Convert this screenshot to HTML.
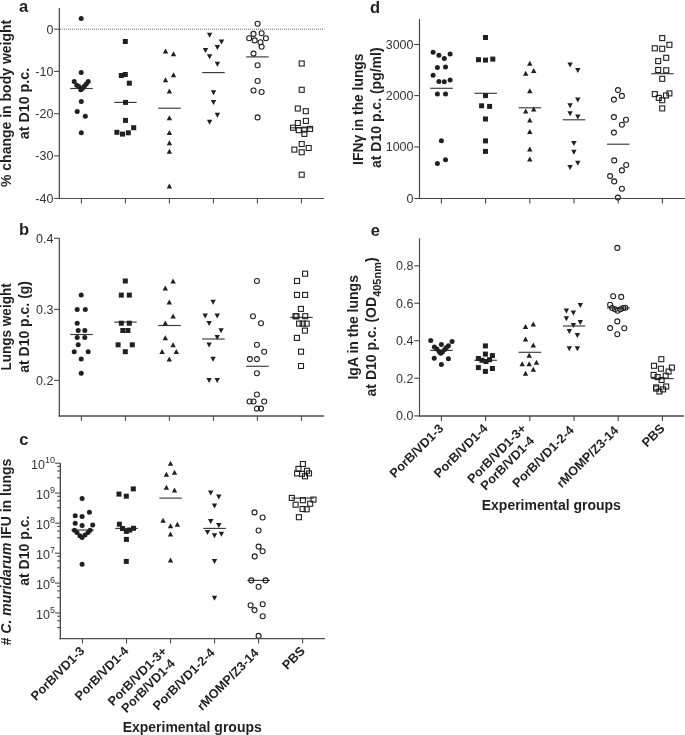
<!DOCTYPE html>
<html><head><meta charset="utf-8"><title>Figure</title><style>html,body{margin:0;padding:0;background:#fff;}body{width:685px;height:735px;overflow:hidden;}svg{display:block;font-family:"Liberation Sans",sans-serif;filter:grayscale(1);}</style></head><body>
<svg width="685" height="735" viewBox="0 0 685 735" font-family="Liberation Sans, sans-serif">
<rect width="685" height="735" fill="#fff"/>
<line x1="60" y1="29.2" x2="324.3" y2="29.2" stroke="#666" stroke-width="1" stroke-dasharray="1 1"/>
<line x1="70.20" y1="88.50" x2="92.70" y2="88.50" stroke="#3a3a3a" stroke-width="1.15"/>
<line x1="114.20" y1="102.40" x2="136.70" y2="102.40" stroke="#3a3a3a" stroke-width="1.15"/>
<line x1="158.20" y1="108.20" x2="180.70" y2="108.20" stroke="#3a3a3a" stroke-width="1.15"/>
<line x1="202.20" y1="72.60" x2="224.70" y2="72.60" stroke="#3a3a3a" stroke-width="1.15"/>
<line x1="246.20" y1="56.90" x2="268.70" y2="56.90" stroke="#3a3a3a" stroke-width="1.15"/>
<line x1="290.20" y1="127.80" x2="312.70" y2="127.80" stroke="#3a3a3a" stroke-width="1.15"/>
<circle cx="81.2" cy="18.4" r="2.5" fill="#231f20"/>
<circle cx="81.2" cy="72.6" r="2.5" fill="#231f20"/>
<circle cx="74.2" cy="81.5" r="2.5" fill="#231f20"/>
<circle cx="76.8" cy="85.2" r="2.5" fill="#231f20"/>
<circle cx="78.8" cy="86.6" r="2.5" fill="#231f20"/>
<circle cx="80.8" cy="89.8" r="2.5" fill="#231f20"/>
<circle cx="82.5" cy="88.2" r="2.5" fill="#231f20"/>
<circle cx="84.3" cy="86.2" r="2.5" fill="#231f20"/>
<circle cx="86.3" cy="84.0" r="2.5" fill="#231f20"/>
<circle cx="88.2" cy="81.4" r="2.5" fill="#231f20"/>
<circle cx="81.3" cy="101.4" r="2.5" fill="#231f20"/>
<circle cx="77.2" cy="111.6" r="2.5" fill="#231f20"/>
<circle cx="85.3" cy="116.3" r="2.5" fill="#231f20"/>
<circle cx="81.3" cy="132.8" r="2.5" fill="#231f20"/>
<rect x="122.80" y="39.00" width="5.0" height="5.0" fill="#231f20"/>
<rect x="118.80" y="73.00" width="5.0" height="5.0" fill="#231f20"/>
<rect x="122.80" y="72.00" width="5.0" height="5.0" fill="#231f20"/>
<rect x="126.80" y="80.70" width="5.0" height="5.0" fill="#231f20"/>
<rect x="123.00" y="99.90" width="5.0" height="5.0" fill="#231f20"/>
<rect x="123.00" y="117.90" width="5.0" height="5.0" fill="#231f20"/>
<rect x="131.20" y="125.20" width="5.0" height="5.0" fill="#231f20"/>
<rect x="114.40" y="129.80" width="5.0" height="5.0" fill="#231f20"/>
<rect x="120.00" y="131.60" width="5.0" height="5.0" fill="#231f20"/>
<rect x="125.80" y="130.30" width="5.0" height="5.0" fill="#231f20"/>
<path d="M165.50 48.40L168.20 53.40L162.80 53.40Z" fill="#231f20"/>
<path d="M173.50 51.30L176.20 56.30L170.80 56.30Z" fill="#231f20"/>
<path d="M173.50 72.20L176.20 77.20L170.80 77.20Z" fill="#231f20"/>
<path d="M165.50 77.30L168.20 82.30L162.80 82.30Z" fill="#231f20"/>
<path d="M169.40 88.50L172.10 93.50L166.70 93.50Z" fill="#231f20"/>
<path d="M169.40 115.20L172.10 120.20L166.70 120.20Z" fill="#231f20"/>
<path d="M169.40 130.10L172.10 135.10L166.70 135.10Z" fill="#231f20"/>
<path d="M169.40 140.30L172.10 145.30L166.70 145.30Z" fill="#231f20"/>
<path d="M169.40 148.80L172.10 153.80L166.70 153.80Z" fill="#231f20"/>
<path d="M169.40 183.60L172.10 188.60L166.70 188.60Z" fill="#231f20"/>
<path d="M209.60 37.70L212.30 32.70L206.90 32.70Z" fill="#231f20"/>
<path d="M221.50 44.60L224.20 39.60L218.80 39.60Z" fill="#231f20"/>
<path d="M217.40 50.00L220.10 45.00L214.70 45.00Z" fill="#231f20"/>
<path d="M205.50 52.90L208.20 47.90L202.80 47.90Z" fill="#231f20"/>
<path d="M209.60 59.20L212.30 54.20L206.90 54.20Z" fill="#231f20"/>
<path d="M217.40 66.80L220.10 61.80L214.70 61.80Z" fill="#231f20"/>
<path d="M213.50 95.30L216.20 90.30L210.80 90.30Z" fill="#231f20"/>
<path d="M213.50 105.00L216.20 100.00L210.80 100.00Z" fill="#231f20"/>
<path d="M217.40 117.80L220.10 112.80L214.70 112.80Z" fill="#231f20"/>
<path d="M209.60 124.70L212.30 119.70L206.90 119.70Z" fill="#231f20"/>
<circle cx="257.6" cy="23.8" r="2.5" fill="none" stroke="#231f20" stroke-width="1.1"/>
<circle cx="253.5" cy="33.9" r="2.5" fill="none" stroke="#231f20" stroke-width="1.1"/>
<circle cx="261.6" cy="33.3" r="2.5" fill="none" stroke="#231f20" stroke-width="1.1"/>
<circle cx="249.2" cy="38.2" r="2.5" fill="none" stroke="#231f20" stroke-width="1.1"/>
<circle cx="265.9" cy="38.2" r="2.5" fill="none" stroke="#231f20" stroke-width="1.1"/>
<circle cx="254.7" cy="40.4" r="2.5" fill="none" stroke="#231f20" stroke-width="1.1"/>
<circle cx="260.5" cy="42.2" r="2.5" fill="none" stroke="#231f20" stroke-width="1.1"/>
<circle cx="261.6" cy="46.7" r="2.5" fill="none" stroke="#231f20" stroke-width="1.1"/>
<circle cx="253.5" cy="53.6" r="2.5" fill="none" stroke="#231f20" stroke-width="1.1"/>
<circle cx="257.6" cy="65.3" r="2.5" fill="none" stroke="#231f20" stroke-width="1.1"/>
<circle cx="257.6" cy="81.0" r="2.5" fill="none" stroke="#231f20" stroke-width="1.1"/>
<circle cx="253.5" cy="90.5" r="2.5" fill="none" stroke="#231f20" stroke-width="1.1"/>
<circle cx="261.6" cy="92.0" r="2.5" fill="none" stroke="#231f20" stroke-width="1.1"/>
<circle cx="257.6" cy="117.4" r="2.5" fill="none" stroke="#231f20" stroke-width="1.1"/>
<rect x="299.20" y="61.00" width="5.0" height="5.0" fill="none" stroke="#231f20" stroke-width="1.1"/>
<rect x="299.20" y="87.30" width="5.0" height="5.0" fill="none" stroke="#231f20" stroke-width="1.1"/>
<rect x="295.30" y="106.00" width="5.0" height="5.0" fill="none" stroke="#231f20" stroke-width="1.1"/>
<rect x="303.30" y="108.70" width="5.0" height="5.0" fill="none" stroke="#231f20" stroke-width="1.1"/>
<rect x="303.40" y="118.40" width="5.0" height="5.0" fill="none" stroke="#231f20" stroke-width="1.1"/>
<rect x="295.30" y="120.50" width="5.0" height="5.0" fill="none" stroke="#231f20" stroke-width="1.1"/>
<rect x="290.50" y="125.20" width="5.0" height="5.0" fill="none" stroke="#231f20" stroke-width="1.1"/>
<rect x="296.30" y="127.70" width="5.0" height="5.0" fill="none" stroke="#231f20" stroke-width="1.1"/>
<rect x="301.90" y="127.10" width="5.0" height="5.0" fill="none" stroke="#231f20" stroke-width="1.1"/>
<rect x="301.90" y="131.40" width="5.0" height="5.0" fill="none" stroke="#231f20" stroke-width="1.1"/>
<rect x="307.60" y="126.40" width="5.0" height="5.0" fill="none" stroke="#231f20" stroke-width="1.1"/>
<rect x="299.20" y="141.50" width="5.0" height="5.0" fill="none" stroke="#231f20" stroke-width="1.1"/>
<rect x="291.90" y="147.10" width="5.0" height="5.0" fill="none" stroke="#231f20" stroke-width="1.1"/>
<rect x="306.20" y="145.50" width="5.0" height="5.0" fill="none" stroke="#231f20" stroke-width="1.1"/>
<rect x="299.20" y="149.80" width="5.0" height="5.0" fill="none" stroke="#231f20" stroke-width="1.1"/>
<rect x="299.20" y="172.20" width="5.0" height="5.0" fill="none" stroke="#231f20" stroke-width="1.1"/>
<line x1="59.35" y1="8.00" x2="59.35" y2="199.10" stroke="#4d4d4d" stroke-width="1.3"/>
<line x1="58.70" y1="198.50" x2="324.00" y2="198.50" stroke="#4d4d4d" stroke-width="1.2"/>
<line x1="81.40" y1="198.50" x2="81.40" y2="203.40" stroke="#4d4d4d" stroke-width="1.1"/>
<line x1="125.40" y1="198.50" x2="125.40" y2="203.40" stroke="#4d4d4d" stroke-width="1.1"/>
<line x1="169.40" y1="198.50" x2="169.40" y2="203.40" stroke="#4d4d4d" stroke-width="1.1"/>
<line x1="213.40" y1="198.50" x2="213.40" y2="203.40" stroke="#4d4d4d" stroke-width="1.1"/>
<line x1="257.40" y1="198.50" x2="257.40" y2="203.40" stroke="#4d4d4d" stroke-width="1.1"/>
<line x1="301.40" y1="198.50" x2="301.40" y2="203.40" stroke="#4d4d4d" stroke-width="1.1"/>
<line x1="54.05" y1="29.20" x2="59.35" y2="29.20" stroke="#4d4d4d" stroke-width="1.1"/>
<text x="53.35" y="33.60" font-size="12.5" text-anchor="end" font-weight="normal" fill="#333" >0</text>
<line x1="54.05" y1="71.43" x2="59.35" y2="71.43" stroke="#4d4d4d" stroke-width="1.1"/>
<text x="53.35" y="75.83" font-size="12.5" text-anchor="end" font-weight="normal" fill="#333" >-10</text>
<line x1="54.05" y1="113.66" x2="59.35" y2="113.66" stroke="#4d4d4d" stroke-width="1.1"/>
<text x="53.35" y="118.06" font-size="12.5" text-anchor="end" font-weight="normal" fill="#333" >-20</text>
<line x1="54.05" y1="155.90" x2="59.35" y2="155.90" stroke="#4d4d4d" stroke-width="1.1"/>
<text x="53.35" y="160.30" font-size="12.5" text-anchor="end" font-weight="normal" fill="#333" >-30</text>
<line x1="54.05" y1="198.40" x2="59.35" y2="198.40" stroke="#4d4d4d" stroke-width="1.1"/>
<text x="53.35" y="202.80" font-size="12.5" text-anchor="end" font-weight="normal" fill="#333" >-40</text>
<line x1="70.20" y1="334.50" x2="92.70" y2="334.50" stroke="#3a3a3a" stroke-width="1.15"/>
<line x1="114.20" y1="322.10" x2="136.70" y2="322.10" stroke="#3a3a3a" stroke-width="1.15"/>
<line x1="158.20" y1="325.50" x2="180.70" y2="325.50" stroke="#3a3a3a" stroke-width="1.15"/>
<line x1="202.20" y1="339.00" x2="224.70" y2="339.00" stroke="#3a3a3a" stroke-width="1.15"/>
<line x1="246.20" y1="366.30" x2="268.70" y2="366.30" stroke="#3a3a3a" stroke-width="1.15"/>
<line x1="290.20" y1="317.40" x2="312.70" y2="317.40" stroke="#3a3a3a" stroke-width="1.15"/>
<circle cx="81.2" cy="294.9" r="2.5" fill="#231f20"/>
<circle cx="77.2" cy="309.5" r="2.5" fill="#231f20"/>
<circle cx="85.3" cy="309.5" r="2.5" fill="#231f20"/>
<circle cx="77.2" cy="323.3" r="2.5" fill="#231f20"/>
<circle cx="78.2" cy="330.5" r="2.5" fill="#231f20"/>
<circle cx="84.8" cy="330.5" r="2.5" fill="#231f20"/>
<circle cx="77.2" cy="337.5" r="2.5" fill="#231f20"/>
<circle cx="84.8" cy="337.5" r="2.5" fill="#231f20"/>
<circle cx="78.2" cy="344.8" r="2.5" fill="#231f20"/>
<circle cx="74.2" cy="351.7" r="2.5" fill="#231f20"/>
<circle cx="88.2" cy="351.7" r="2.5" fill="#231f20"/>
<circle cx="81.2" cy="359.1" r="2.5" fill="#231f20"/>
<circle cx="81.2" cy="373.3" r="2.5" fill="#231f20"/>
<rect x="122.80" y="278.50" width="5.0" height="5.0" fill="#231f20"/>
<rect x="118.80" y="292.60" width="5.0" height="5.0" fill="#231f20"/>
<rect x="126.80" y="292.60" width="5.0" height="5.0" fill="#231f20"/>
<rect x="118.80" y="320.70" width="5.0" height="5.0" fill="#231f20"/>
<rect x="126.80" y="320.70" width="5.0" height="5.0" fill="#231f20"/>
<rect x="120.30" y="328.00" width="5.0" height="5.0" fill="#231f20"/>
<rect x="125.40" y="328.00" width="5.0" height="5.0" fill="#231f20"/>
<rect x="115.60" y="342.30" width="5.0" height="5.0" fill="#231f20"/>
<rect x="129.80" y="342.30" width="5.0" height="5.0" fill="#231f20"/>
<rect x="122.80" y="349.20" width="5.0" height="5.0" fill="#231f20"/>
<path d="M173.10 278.40L175.80 283.40L170.40 283.40Z" fill="#231f20"/>
<path d="M165.30 285.60L168.00 290.60L162.60 290.60Z" fill="#231f20"/>
<path d="M169.30 299.60L172.00 304.60L166.60 304.60Z" fill="#231f20"/>
<path d="M173.10 313.50L175.80 318.50L170.40 318.50Z" fill="#231f20"/>
<path d="M165.30 320.60L168.00 325.60L162.60 325.60Z" fill="#231f20"/>
<path d="M165.30 335.20L168.00 340.20L162.60 340.20Z" fill="#231f20"/>
<path d="M173.10 342.30L175.80 347.30L170.40 347.30Z" fill="#231f20"/>
<path d="M162.10 349.10L164.80 354.10L159.40 354.10Z" fill="#231f20"/>
<path d="M176.30 349.10L179.00 354.10L173.60 354.10Z" fill="#231f20"/>
<path d="M169.30 356.40L172.00 361.40L166.60 361.40Z" fill="#231f20"/>
<path d="M213.10 304.70L215.80 299.70L210.40 299.70Z" fill="#231f20"/>
<path d="M205.20 318.60L207.90 313.60L202.50 313.60Z" fill="#231f20"/>
<path d="M217.20 318.60L219.90 313.60L214.50 313.60Z" fill="#231f20"/>
<path d="M209.10 326.00L211.80 321.00L206.40 321.00Z" fill="#231f20"/>
<path d="M221.10 333.20L223.80 328.20L218.40 328.20Z" fill="#231f20"/>
<path d="M217.20 340.10L219.90 335.10L214.50 335.10Z" fill="#231f20"/>
<path d="M209.10 347.40L211.80 342.40L206.40 342.40Z" fill="#231f20"/>
<path d="M213.10 361.70L215.80 356.70L210.40 356.70Z" fill="#231f20"/>
<path d="M209.10 382.90L211.80 377.90L206.40 377.90Z" fill="#231f20"/>
<path d="M217.20 382.90L219.90 377.90L214.50 377.90Z" fill="#231f20"/>
<circle cx="256.9" cy="281.0" r="2.5" fill="none" stroke="#231f20" stroke-width="1.1"/>
<circle cx="253.0" cy="316.3" r="2.5" fill="none" stroke="#231f20" stroke-width="1.1"/>
<circle cx="261.0" cy="323.3" r="2.5" fill="none" stroke="#231f20" stroke-width="1.1"/>
<circle cx="256.9" cy="344.8" r="2.5" fill="none" stroke="#231f20" stroke-width="1.1"/>
<circle cx="264.2" cy="351.7" r="2.5" fill="none" stroke="#231f20" stroke-width="1.1"/>
<circle cx="249.9" cy="359.1" r="2.5" fill="none" stroke="#231f20" stroke-width="1.1"/>
<circle cx="256.9" cy="359.1" r="2.5" fill="none" stroke="#231f20" stroke-width="1.1"/>
<circle cx="256.9" cy="373.3" r="2.5" fill="none" stroke="#231f20" stroke-width="1.1"/>
<circle cx="256.9" cy="394.5" r="2.5" fill="none" stroke="#231f20" stroke-width="1.1"/>
<circle cx="249.6" cy="401.5" r="2.5" fill="none" stroke="#231f20" stroke-width="1.1"/>
<circle cx="253.5" cy="401.5" r="2.5" fill="none" stroke="#231f20" stroke-width="1.1"/>
<circle cx="264.2" cy="401.5" r="2.5" fill="none" stroke="#231f20" stroke-width="1.1"/>
<circle cx="256.9" cy="408.6" r="2.5" fill="none" stroke="#231f20" stroke-width="1.1"/>
<circle cx="261.0" cy="408.6" r="2.5" fill="none" stroke="#231f20" stroke-width="1.1"/>
<rect x="302.60" y="271.20" width="5.0" height="5.0" fill="none" stroke="#231f20" stroke-width="1.1"/>
<rect x="294.50" y="278.50" width="5.0" height="5.0" fill="none" stroke="#231f20" stroke-width="1.1"/>
<rect x="294.50" y="292.40" width="5.0" height="5.0" fill="none" stroke="#231f20" stroke-width="1.1"/>
<rect x="302.60" y="292.40" width="5.0" height="5.0" fill="none" stroke="#231f20" stroke-width="1.1"/>
<rect x="298.40" y="306.40" width="5.0" height="5.0" fill="none" stroke="#231f20" stroke-width="1.1"/>
<rect x="293.00" y="313.70" width="5.0" height="5.0" fill="none" stroke="#231f20" stroke-width="1.1"/>
<rect x="294.00" y="313.70" width="5.0" height="5.0" fill="none" stroke="#231f20" stroke-width="1.1"/>
<rect x="302.70" y="313.70" width="5.0" height="5.0" fill="none" stroke="#231f20" stroke-width="1.1"/>
<rect x="296.60" y="321.10" width="5.0" height="5.0" fill="none" stroke="#231f20" stroke-width="1.1"/>
<rect x="300.20" y="321.10" width="5.0" height="5.0" fill="none" stroke="#231f20" stroke-width="1.1"/>
<rect x="304.20" y="321.10" width="5.0" height="5.0" fill="none" stroke="#231f20" stroke-width="1.1"/>
<rect x="302.40" y="328.10" width="5.0" height="5.0" fill="none" stroke="#231f20" stroke-width="1.1"/>
<rect x="294.40" y="335.40" width="5.0" height="5.0" fill="none" stroke="#231f20" stroke-width="1.1"/>
<rect x="298.50" y="349.20" width="5.0" height="5.0" fill="none" stroke="#231f20" stroke-width="1.1"/>
<rect x="298.50" y="363.50" width="5.0" height="5.0" fill="none" stroke="#231f20" stroke-width="1.1"/>
<line x1="59.35" y1="238.30" x2="59.35" y2="416.75" stroke="#4d4d4d" stroke-width="1.3"/>
<line x1="58.70" y1="416.00" x2="324.00" y2="416.00" stroke="#4d4d4d" stroke-width="1.5"/>
<line x1="81.40" y1="416.00" x2="81.40" y2="420.90" stroke="#4d4d4d" stroke-width="1.1"/>
<line x1="125.40" y1="416.00" x2="125.40" y2="420.90" stroke="#4d4d4d" stroke-width="1.1"/>
<line x1="169.40" y1="416.00" x2="169.40" y2="420.90" stroke="#4d4d4d" stroke-width="1.1"/>
<line x1="213.40" y1="416.00" x2="213.40" y2="420.90" stroke="#4d4d4d" stroke-width="1.1"/>
<line x1="257.40" y1="416.00" x2="257.40" y2="420.90" stroke="#4d4d4d" stroke-width="1.1"/>
<line x1="301.40" y1="416.00" x2="301.40" y2="420.90" stroke="#4d4d4d" stroke-width="1.1"/>
<line x1="54.05" y1="238.30" x2="59.35" y2="238.30" stroke="#4d4d4d" stroke-width="1.1"/>
<text x="53.35" y="242.70" font-size="12.5" text-anchor="end" font-weight="normal" fill="#333" >0.4</text>
<line x1="54.05" y1="309.35" x2="59.35" y2="309.35" stroke="#4d4d4d" stroke-width="1.1"/>
<text x="53.35" y="313.75" font-size="12.5" text-anchor="end" font-weight="normal" fill="#333" >0.3</text>
<line x1="54.05" y1="380.40" x2="59.35" y2="380.40" stroke="#4d4d4d" stroke-width="1.1"/>
<text x="53.35" y="384.80" font-size="12.5" text-anchor="end" font-weight="normal" fill="#333" >0.2</text>
<line x1="71.30" y1="530.00" x2="93.80" y2="530.00" stroke="#3a3a3a" stroke-width="1.15"/>
<line x1="115.32" y1="528.40" x2="137.82" y2="528.40" stroke="#3a3a3a" stroke-width="1.15"/>
<line x1="159.34" y1="498.10" x2="181.84" y2="498.10" stroke="#3a3a3a" stroke-width="1.15"/>
<line x1="203.36" y1="528.40" x2="225.86" y2="528.40" stroke="#3a3a3a" stroke-width="1.15"/>
<line x1="247.38" y1="580.40" x2="269.88" y2="580.40" stroke="#3a3a3a" stroke-width="1.15"/>
<line x1="291.40" y1="498.10" x2="313.90" y2="498.10" stroke="#3a3a3a" stroke-width="1.15"/>
<circle cx="82.1" cy="498.4" r="2.5" fill="#231f20"/>
<circle cx="89.4" cy="512.3" r="2.5" fill="#231f20"/>
<circle cx="75.2" cy="515.7" r="2.5" fill="#231f20"/>
<circle cx="82.1" cy="516.6" r="2.5" fill="#231f20"/>
<circle cx="75.2" cy="523.2" r="2.5" fill="#231f20"/>
<circle cx="82.1" cy="525.6" r="2.5" fill="#231f20"/>
<circle cx="92.7" cy="525.0" r="2.5" fill="#231f20"/>
<circle cx="74.5" cy="530.2" r="2.5" fill="#231f20"/>
<circle cx="77.0" cy="532.4" r="2.5" fill="#231f20"/>
<circle cx="79.9" cy="535.7" r="2.5" fill="#231f20"/>
<circle cx="82.1" cy="537.5" r="2.5" fill="#231f20"/>
<circle cx="85.0" cy="535.0" r="2.5" fill="#231f20"/>
<circle cx="88.0" cy="532.4" r="2.5" fill="#231f20"/>
<circle cx="90.1" cy="530.2" r="2.5" fill="#231f20"/>
<circle cx="82.1" cy="564.2" r="2.5" fill="#231f20"/>
<rect x="130.80" y="486.40" width="5.0" height="5.0" fill="#231f20"/>
<rect x="116.50" y="491.60" width="5.0" height="5.0" fill="#231f20"/>
<rect x="123.80" y="493.70" width="5.0" height="5.0" fill="#231f20"/>
<rect x="116.90" y="521.70" width="5.0" height="5.0" fill="#231f20"/>
<rect x="120.00" y="526.00" width="5.0" height="5.0" fill="#231f20"/>
<rect x="123.90" y="528.90" width="5.0" height="5.0" fill="#231f20"/>
<rect x="127.20" y="527.60" width="5.0" height="5.0" fill="#231f20"/>
<rect x="131.00" y="525.80" width="5.0" height="5.0" fill="#231f20"/>
<rect x="123.90" y="536.90" width="5.0" height="5.0" fill="#231f20"/>
<rect x="123.80" y="558.90" width="5.0" height="5.0" fill="#231f20"/>
<path d="M170.50 460.80L173.20 465.80L167.80 465.80Z" fill="#231f20"/>
<path d="M166.40 471.70L169.10 476.70L163.70 476.70Z" fill="#231f20"/>
<path d="M174.50 469.80L177.20 474.80L171.80 474.80Z" fill="#231f20"/>
<path d="M166.40 484.80L169.10 489.80L163.70 489.80Z" fill="#231f20"/>
<path d="M174.50 487.50L177.20 492.50L171.80 492.50Z" fill="#231f20"/>
<path d="M163.10 517.70L165.80 522.70L160.40 522.70Z" fill="#231f20"/>
<path d="M170.50 523.20L173.20 528.20L167.80 528.20Z" fill="#231f20"/>
<path d="M177.40 521.80L180.10 526.80L174.70 526.80Z" fill="#231f20"/>
<path d="M170.50 531.60L173.20 536.60L167.80 536.60Z" fill="#231f20"/>
<path d="M170.50 557.40L173.20 562.40L167.80 562.40Z" fill="#231f20"/>
<path d="M210.70 495.50L213.40 490.50L208.00 490.50Z" fill="#231f20"/>
<path d="M218.80 499.60L221.50 494.60L216.10 494.60Z" fill="#231f20"/>
<path d="M214.50 508.40L217.20 503.40L211.80 503.40Z" fill="#231f20"/>
<path d="M210.70 524.10L213.40 519.10L208.00 519.10Z" fill="#231f20"/>
<path d="M218.80 528.10L221.50 523.10L216.10 523.10Z" fill="#231f20"/>
<path d="M207.50 534.90L210.20 529.90L204.80 529.90Z" fill="#231f20"/>
<path d="M214.50 538.30L217.20 533.30L211.80 533.30Z" fill="#231f20"/>
<path d="M221.40 536.80L224.10 531.80L218.70 531.80Z" fill="#231f20"/>
<path d="M214.50 563.90L217.20 558.90L211.80 558.90Z" fill="#231f20"/>
<path d="M214.50 600.70L217.20 595.70L211.80 595.70Z" fill="#231f20"/>
<circle cx="254.5" cy="512.4" r="2.5" fill="none" stroke="#231f20" stroke-width="1.1"/>
<circle cx="262.6" cy="517.5" r="2.5" fill="none" stroke="#231f20" stroke-width="1.1"/>
<circle cx="258.6" cy="530.5" r="2.5" fill="none" stroke="#231f20" stroke-width="1.1"/>
<circle cx="258.6" cy="546.6" r="2.5" fill="none" stroke="#231f20" stroke-width="1.1"/>
<circle cx="262.6" cy="551.2" r="2.5" fill="none" stroke="#231f20" stroke-width="1.1"/>
<circle cx="254.7" cy="556.4" r="2.5" fill="none" stroke="#231f20" stroke-width="1.1"/>
<circle cx="251.3" cy="580.4" r="2.5" fill="none" stroke="#231f20" stroke-width="1.1"/>
<circle cx="265.6" cy="580.4" r="2.5" fill="none" stroke="#231f20" stroke-width="1.1"/>
<circle cx="258.6" cy="586.7" r="2.5" fill="none" stroke="#231f20" stroke-width="1.1"/>
<circle cx="262.7" cy="604.2" r="2.5" fill="none" stroke="#231f20" stroke-width="1.1"/>
<circle cx="250.6" cy="605.3" r="2.5" fill="none" stroke="#231f20" stroke-width="1.1"/>
<circle cx="254.5" cy="610.1" r="2.5" fill="none" stroke="#231f20" stroke-width="1.1"/>
<circle cx="262.7" cy="616.2" r="2.5" fill="none" stroke="#231f20" stroke-width="1.1"/>
<circle cx="258.6" cy="635.9" r="2.5" fill="none" stroke="#231f20" stroke-width="1.1"/>
<rect x="300.40" y="461.50" width="5.0" height="5.0" fill="none" stroke="#231f20" stroke-width="1.1"/>
<rect x="296.00" y="466.40" width="5.0" height="5.0" fill="none" stroke="#231f20" stroke-width="1.1"/>
<rect x="304.50" y="468.30" width="5.0" height="5.0" fill="none" stroke="#231f20" stroke-width="1.1"/>
<rect x="294.60" y="470.90" width="5.0" height="5.0" fill="none" stroke="#231f20" stroke-width="1.1"/>
<rect x="299.50" y="471.40" width="5.0" height="5.0" fill="none" stroke="#231f20" stroke-width="1.1"/>
<rect x="306.50" y="470.90" width="5.0" height="5.0" fill="none" stroke="#231f20" stroke-width="1.1"/>
<rect x="302.50" y="473.80" width="5.0" height="5.0" fill="none" stroke="#231f20" stroke-width="1.1"/>
<rect x="289.30" y="495.40" width="5.0" height="5.0" fill="none" stroke="#231f20" stroke-width="1.1"/>
<rect x="300.40" y="497.70" width="5.0" height="5.0" fill="none" stroke="#231f20" stroke-width="1.1"/>
<rect x="311.00" y="497.10" width="5.0" height="5.0" fill="none" stroke="#231f20" stroke-width="1.1"/>
<rect x="293.10" y="502.20" width="5.0" height="5.0" fill="none" stroke="#231f20" stroke-width="1.1"/>
<rect x="307.70" y="501.20" width="5.0" height="5.0" fill="none" stroke="#231f20" stroke-width="1.1"/>
<rect x="300.10" y="506.50" width="5.0" height="5.0" fill="none" stroke="#231f20" stroke-width="1.1"/>
<rect x="304.20" y="506.80" width="5.0" height="5.0" fill="none" stroke="#231f20" stroke-width="1.1"/>
<rect x="296.40" y="514.70" width="5.0" height="5.0" fill="none" stroke="#231f20" stroke-width="1.1"/>
<line x1="60.30" y1="463.10" x2="60.30" y2="639.20" stroke="#4d4d4d" stroke-width="1.4"/>
<line x1="59.60" y1="638.60" x2="325.00" y2="638.60" stroke="#4d4d4d" stroke-width="1.2"/>
<line x1="82.50" y1="638.60" x2="82.50" y2="643.50" stroke="#4d4d4d" stroke-width="1.1"/>
<line x1="126.52" y1="638.60" x2="126.52" y2="643.50" stroke="#4d4d4d" stroke-width="1.1"/>
<line x1="170.54" y1="638.60" x2="170.54" y2="643.50" stroke="#4d4d4d" stroke-width="1.1"/>
<line x1="214.56" y1="638.60" x2="214.56" y2="643.50" stroke="#4d4d4d" stroke-width="1.1"/>
<line x1="258.58" y1="638.60" x2="258.58" y2="643.50" stroke="#4d4d4d" stroke-width="1.1"/>
<line x1="302.60" y1="638.60" x2="302.60" y2="643.50" stroke="#4d4d4d" stroke-width="1.1"/>
<line x1="55.00" y1="463.20" x2="60.30" y2="463.20" stroke="#4d4d4d" stroke-width="1.1"/>
<line x1="55.00" y1="493.10" x2="60.30" y2="493.10" stroke="#4d4d4d" stroke-width="1.1"/>
<line x1="55.00" y1="523.20" x2="60.30" y2="523.20" stroke="#4d4d4d" stroke-width="1.1"/>
<line x1="55.00" y1="553.20" x2="60.30" y2="553.20" stroke="#4d4d4d" stroke-width="1.1"/>
<line x1="55.00" y1="583.10" x2="60.30" y2="583.10" stroke="#4d4d4d" stroke-width="1.1"/>
<line x1="55.00" y1="613.00" x2="60.30" y2="613.00" stroke="#4d4d4d" stroke-width="1.1"/>
<line x1="57.10" y1="466.40" x2="60.30" y2="466.40" stroke="#4d4d4d" stroke-width="1.1"/>
<line x1="57.10" y1="471.00" x2="60.30" y2="471.00" stroke="#4d4d4d" stroke-width="1.1"/>
<line x1="57.10" y1="477.80" x2="60.30" y2="477.80" stroke="#4d4d4d" stroke-width="1.1"/>
<line x1="57.10" y1="496.30" x2="60.30" y2="496.30" stroke="#4d4d4d" stroke-width="1.1"/>
<line x1="57.10" y1="500.90" x2="60.30" y2="500.90" stroke="#4d4d4d" stroke-width="1.1"/>
<line x1="57.10" y1="507.70" x2="60.30" y2="507.70" stroke="#4d4d4d" stroke-width="1.1"/>
<line x1="57.10" y1="526.40" x2="60.30" y2="526.40" stroke="#4d4d4d" stroke-width="1.1"/>
<line x1="57.10" y1="531.00" x2="60.30" y2="531.00" stroke="#4d4d4d" stroke-width="1.1"/>
<line x1="57.10" y1="537.80" x2="60.30" y2="537.80" stroke="#4d4d4d" stroke-width="1.1"/>
<line x1="57.10" y1="556.40" x2="60.30" y2="556.40" stroke="#4d4d4d" stroke-width="1.1"/>
<line x1="57.10" y1="561.00" x2="60.30" y2="561.00" stroke="#4d4d4d" stroke-width="1.1"/>
<line x1="57.10" y1="567.80" x2="60.30" y2="567.80" stroke="#4d4d4d" stroke-width="1.1"/>
<line x1="57.10" y1="586.30" x2="60.30" y2="586.30" stroke="#4d4d4d" stroke-width="1.1"/>
<line x1="57.10" y1="590.90" x2="60.30" y2="590.90" stroke="#4d4d4d" stroke-width="1.1"/>
<line x1="57.10" y1="597.70" x2="60.30" y2="597.70" stroke="#4d4d4d" stroke-width="1.1"/>
<line x1="57.10" y1="616.20" x2="60.30" y2="616.20" stroke="#4d4d4d" stroke-width="1.1"/>
<line x1="57.10" y1="620.80" x2="60.30" y2="620.80" stroke="#4d4d4d" stroke-width="1.1"/>
<line x1="57.10" y1="627.60" x2="60.30" y2="627.60" stroke="#4d4d4d" stroke-width="1.1"/>
<text x="55.0" y="469.0" font-size="12.5" text-anchor="end" fill="#333">10<tspan font-size="9" dy="-6.1">10</tspan></text>
<text x="55.0" y="498.9" font-size="12.5" text-anchor="end" fill="#333">10<tspan font-size="9" dy="-6.1">9</tspan></text>
<text x="55.0" y="529.0" font-size="12.5" text-anchor="end" fill="#333">10<tspan font-size="9" dy="-6.1">8</tspan></text>
<text x="55.0" y="559.0" font-size="12.5" text-anchor="end" fill="#333">10<tspan font-size="9" dy="-6.1">7</tspan></text>
<text x="55.0" y="588.9" font-size="12.5" text-anchor="end" fill="#333">10<tspan font-size="9" dy="-6.1">6</tspan></text>
<text x="55.0" y="618.8" font-size="12.5" text-anchor="end" fill="#333">10<tspan font-size="9" dy="-6.1">5</tspan></text>
<line x1="430.20" y1="88.30" x2="452.70" y2="88.30" stroke="#3a3a3a" stroke-width="1.15"/>
<line x1="474.40" y1="93.30" x2="496.90" y2="93.30" stroke="#3a3a3a" stroke-width="1.15"/>
<line x1="518.60" y1="107.80" x2="541.10" y2="107.80" stroke="#3a3a3a" stroke-width="1.15"/>
<line x1="562.80" y1="119.80" x2="585.30" y2="119.80" stroke="#3a3a3a" stroke-width="1.15"/>
<line x1="607.00" y1="144.20" x2="629.50" y2="144.20" stroke="#3a3a3a" stroke-width="1.15"/>
<line x1="651.20" y1="73.70" x2="673.70" y2="73.70" stroke="#3a3a3a" stroke-width="1.15"/>
<circle cx="433.1" cy="52.3" r="2.5" fill="#231f20"/>
<circle cx="438.9" cy="55.2" r="2.5" fill="#231f20"/>
<circle cx="444.3" cy="58.4" r="2.5" fill="#231f20"/>
<circle cx="450.1" cy="54.0" r="2.5" fill="#231f20"/>
<circle cx="437.4" cy="67.4" r="2.5" fill="#231f20"/>
<circle cx="445.5" cy="66.9" r="2.5" fill="#231f20"/>
<circle cx="433.1" cy="75.2" r="2.5" fill="#231f20"/>
<circle cx="438.9" cy="81.5" r="2.5" fill="#231f20"/>
<circle cx="444.3" cy="81.8" r="2.5" fill="#231f20"/>
<circle cx="450.1" cy="80.0" r="2.5" fill="#231f20"/>
<circle cx="437.4" cy="94.1" r="2.5" fill="#231f20"/>
<circle cx="445.5" cy="94.1" r="2.5" fill="#231f20"/>
<circle cx="441.4" cy="140.7" r="2.5" fill="#231f20"/>
<circle cx="445.5" cy="159.8" r="2.5" fill="#231f20"/>
<circle cx="437.4" cy="163.4" r="2.5" fill="#231f20"/>
<rect x="483.00" y="35.00" width="5.0" height="5.0" fill="#231f20"/>
<rect x="476.00" y="57.20" width="5.0" height="5.0" fill="#231f20"/>
<rect x="483.00" y="57.60" width="5.0" height="5.0" fill="#231f20"/>
<rect x="490.30" y="56.60" width="5.0" height="5.0" fill="#231f20"/>
<rect x="483.00" y="93.10" width="5.0" height="5.0" fill="#231f20"/>
<rect x="479.10" y="103.30" width="5.0" height="5.0" fill="#231f20"/>
<rect x="487.10" y="103.90" width="5.0" height="5.0" fill="#231f20"/>
<rect x="483.00" y="116.50" width="5.0" height="5.0" fill="#231f20"/>
<rect x="483.00" y="138.40" width="5.0" height="5.0" fill="#231f20"/>
<rect x="483.00" y="148.90" width="5.0" height="5.0" fill="#231f20"/>
<path d="M529.80 60.80L532.50 65.80L527.10 65.80Z" fill="#231f20"/>
<path d="M533.70 68.10L536.40 73.10L531.00 73.10Z" fill="#231f20"/>
<path d="M525.70 70.70L528.40 75.70L523.00 75.70Z" fill="#231f20"/>
<path d="M529.80 88.20L532.50 93.20L527.10 93.20Z" fill="#231f20"/>
<path d="M533.70 106.50L536.40 111.50L531.00 111.50Z" fill="#231f20"/>
<path d="M525.70 108.40L528.40 113.40L523.00 113.40Z" fill="#231f20"/>
<path d="M529.80 117.40L532.50 122.40L527.10 122.40Z" fill="#231f20"/>
<path d="M529.80 129.10L532.50 134.10L527.10 134.10Z" fill="#231f20"/>
<path d="M529.80 146.60L532.50 151.60L527.10 151.60Z" fill="#231f20"/>
<path d="M529.80 156.60L532.50 161.60L527.10 161.60Z" fill="#231f20"/>
<path d="M570.10 67.50L572.80 62.50L567.40 62.50Z" fill="#231f20"/>
<path d="M577.80 72.90L580.50 67.90L575.10 67.90Z" fill="#231f20"/>
<path d="M577.80 102.60L580.50 97.60L575.10 97.60Z" fill="#231f20"/>
<path d="M570.10 108.30L572.80 103.30L567.40 103.30Z" fill="#231f20"/>
<path d="M570.10 116.20L572.80 111.20L567.40 111.20Z" fill="#231f20"/>
<path d="M577.80 119.40L580.50 114.40L575.10 114.40Z" fill="#231f20"/>
<path d="M573.90 146.10L576.60 141.10L571.20 141.10Z" fill="#231f20"/>
<path d="M573.90 154.80L576.60 149.80L571.20 149.80Z" fill="#231f20"/>
<path d="M577.80 165.80L580.50 160.80L575.10 160.80Z" fill="#231f20"/>
<path d="M570.10 169.90L572.80 164.90L567.40 164.90Z" fill="#231f20"/>
<circle cx="618.0" cy="90.1" r="2.5" fill="none" stroke="#231f20" stroke-width="1.1"/>
<circle cx="621.9" cy="95.9" r="2.5" fill="none" stroke="#231f20" stroke-width="1.1"/>
<circle cx="613.9" cy="99.6" r="2.5" fill="none" stroke="#231f20" stroke-width="1.1"/>
<circle cx="613.9" cy="117.1" r="2.5" fill="none" stroke="#231f20" stroke-width="1.1"/>
<circle cx="626.0" cy="119.7" r="2.5" fill="none" stroke="#231f20" stroke-width="1.1"/>
<circle cx="621.9" cy="124.8" r="2.5" fill="none" stroke="#231f20" stroke-width="1.1"/>
<circle cx="613.9" cy="132.6" r="2.5" fill="none" stroke="#231f20" stroke-width="1.1"/>
<circle cx="614.2" cy="160.4" r="2.5" fill="none" stroke="#231f20" stroke-width="1.1"/>
<circle cx="626.2" cy="165.0" r="2.5" fill="none" stroke="#231f20" stroke-width="1.1"/>
<circle cx="621.9" cy="170.4" r="2.5" fill="none" stroke="#231f20" stroke-width="1.1"/>
<circle cx="610.1" cy="176.1" r="2.5" fill="none" stroke="#231f20" stroke-width="1.1"/>
<circle cx="614.2" cy="181.4" r="2.5" fill="none" stroke="#231f20" stroke-width="1.1"/>
<circle cx="621.9" cy="188.8" r="2.5" fill="none" stroke="#231f20" stroke-width="1.1"/>
<circle cx="617.9" cy="197.6" r="2.5" fill="none" stroke="#231f20" stroke-width="1.1"/>
<rect x="659.70" y="35.60" width="5.0" height="5.0" fill="none" stroke="#231f20" stroke-width="1.1"/>
<rect x="666.90" y="42.30" width="5.0" height="5.0" fill="none" stroke="#231f20" stroke-width="1.1"/>
<rect x="652.30" y="45.80" width="5.0" height="5.0" fill="none" stroke="#231f20" stroke-width="1.1"/>
<rect x="659.70" y="46.30" width="5.0" height="5.0" fill="none" stroke="#231f20" stroke-width="1.1"/>
<rect x="663.70" y="55.30" width="5.0" height="5.0" fill="none" stroke="#231f20" stroke-width="1.1"/>
<rect x="655.70" y="58.60" width="5.0" height="5.0" fill="none" stroke="#231f20" stroke-width="1.1"/>
<rect x="655.70" y="67.50" width="5.0" height="5.0" fill="none" stroke="#231f20" stroke-width="1.1"/>
<rect x="663.70" y="67.80" width="5.0" height="5.0" fill="none" stroke="#231f20" stroke-width="1.1"/>
<rect x="659.70" y="76.30" width="5.0" height="5.0" fill="none" stroke="#231f20" stroke-width="1.1"/>
<rect x="652.30" y="91.60" width="5.0" height="5.0" fill="none" stroke="#231f20" stroke-width="1.1"/>
<rect x="666.90" y="90.90" width="5.0" height="5.0" fill="none" stroke="#231f20" stroke-width="1.1"/>
<rect x="663.50" y="93.00" width="5.0" height="5.0" fill="none" stroke="#231f20" stroke-width="1.1"/>
<rect x="656.30" y="95.40" width="5.0" height="5.0" fill="none" stroke="#231f20" stroke-width="1.1"/>
<rect x="659.70" y="97.70" width="5.0" height="5.0" fill="none" stroke="#231f20" stroke-width="1.1"/>
<rect x="659.70" y="105.90" width="5.0" height="5.0" fill="none" stroke="#231f20" stroke-width="1.1"/>
<line x1="419.50" y1="19.00" x2="419.50" y2="199.10" stroke="#444" stroke-width="1.15"/>
<line x1="418.93" y1="198.50" x2="685.00" y2="198.50" stroke="#444" stroke-width="1.2"/>
<line x1="441.40" y1="198.50" x2="441.40" y2="203.40" stroke="#444" stroke-width="1.1"/>
<line x1="485.60" y1="198.50" x2="485.60" y2="203.40" stroke="#444" stroke-width="1.1"/>
<line x1="529.80" y1="198.50" x2="529.80" y2="203.40" stroke="#444" stroke-width="1.1"/>
<line x1="574.00" y1="198.50" x2="574.00" y2="203.40" stroke="#444" stroke-width="1.1"/>
<line x1="618.20" y1="198.50" x2="618.20" y2="203.40" stroke="#444" stroke-width="1.1"/>
<line x1="662.40" y1="198.50" x2="662.40" y2="203.40" stroke="#444" stroke-width="1.1"/>
<line x1="414.20" y1="44.50" x2="419.50" y2="44.50" stroke="#444" stroke-width="1.1"/>
<text x="413.50" y="48.90" font-size="12.5" text-anchor="end" font-weight="normal" fill="#333" >3000</text>
<line x1="414.20" y1="95.60" x2="419.50" y2="95.60" stroke="#444" stroke-width="1.1"/>
<text x="413.50" y="100.00" font-size="12.5" text-anchor="end" font-weight="normal" fill="#333" >2000</text>
<line x1="414.20" y1="146.95" x2="419.50" y2="146.95" stroke="#444" stroke-width="1.1"/>
<text x="413.50" y="151.35" font-size="12.5" text-anchor="end" font-weight="normal" fill="#333" >1000</text>
<line x1="414.20" y1="198.50" x2="419.50" y2="198.50" stroke="#444" stroke-width="1.1"/>
<text x="413.50" y="202.90" font-size="12.5" text-anchor="end" font-weight="normal" fill="#333" >0</text>
<line x1="430.20" y1="350.40" x2="452.70" y2="350.40" stroke="#3a3a3a" stroke-width="1.15"/>
<line x1="474.40" y1="360.30" x2="496.90" y2="360.30" stroke="#3a3a3a" stroke-width="1.15"/>
<line x1="518.60" y1="352.30" x2="541.10" y2="352.30" stroke="#3a3a3a" stroke-width="1.15"/>
<line x1="562.80" y1="326.00" x2="585.30" y2="326.00" stroke="#3a3a3a" stroke-width="1.15"/>
<line x1="607.00" y1="308.00" x2="629.50" y2="308.00" stroke="#3a3a3a" stroke-width="1.15"/>
<line x1="651.20" y1="378.60" x2="673.70" y2="378.60" stroke="#3a3a3a" stroke-width="1.15"/>
<circle cx="430.7" cy="340.4" r="2.5" fill="#231f20"/>
<circle cx="452.1" cy="341.6" r="2.5" fill="#231f20"/>
<circle cx="441.4" cy="344.5" r="2.5" fill="#231f20"/>
<circle cx="434.4" cy="346.9" r="2.5" fill="#231f20"/>
<circle cx="436.9" cy="348.9" r="2.5" fill="#231f20"/>
<circle cx="439.1" cy="351.4" r="2.5" fill="#231f20"/>
<circle cx="440.7" cy="353.3" r="2.5" fill="#231f20"/>
<circle cx="442.4" cy="351.9" r="2.5" fill="#231f20"/>
<circle cx="444.7" cy="349.6" r="2.5" fill="#231f20"/>
<circle cx="446.5" cy="347.6" r="2.5" fill="#231f20"/>
<circle cx="448.4" cy="345.8" r="2.5" fill="#231f20"/>
<circle cx="434.2" cy="358.3" r="2.5" fill="#231f20"/>
<circle cx="448.4" cy="358.8" r="2.5" fill="#231f20"/>
<circle cx="441.4" cy="364.4" r="2.5" fill="#231f20"/>
<rect x="482.90" y="343.40" width="5.0" height="5.0" fill="#231f20"/>
<rect x="482.90" y="351.60" width="5.0" height="5.0" fill="#231f20"/>
<rect x="489.90" y="353.10" width="5.0" height="5.0" fill="#231f20"/>
<rect x="475.90" y="356.00" width="5.0" height="5.0" fill="#231f20"/>
<rect x="479.40" y="357.80" width="5.0" height="5.0" fill="#231f20"/>
<rect x="483.50" y="359.00" width="5.0" height="5.0" fill="#231f20"/>
<rect x="487.00" y="357.20" width="5.0" height="5.0" fill="#231f20"/>
<rect x="475.90" y="365.10" width="5.0" height="5.0" fill="#231f20"/>
<rect x="489.90" y="366.00" width="5.0" height="5.0" fill="#231f20"/>
<rect x="482.90" y="368.90" width="5.0" height="5.0" fill="#231f20"/>
<path d="M533.30 321.40L536.00 326.40L530.60 326.40Z" fill="#231f20"/>
<path d="M525.50 324.00L528.20 329.00L522.80 329.00Z" fill="#231f20"/>
<path d="M525.50 336.40L528.20 341.40L522.80 341.40Z" fill="#231f20"/>
<path d="M533.30 342.50L536.00 347.50L530.60 347.50Z" fill="#231f20"/>
<path d="M529.20 352.80L531.90 357.80L526.50 357.80Z" fill="#231f20"/>
<path d="M522.20 361.20L524.90 366.20L519.50 366.20Z" fill="#231f20"/>
<path d="M529.20 361.20L531.90 366.20L526.50 366.20Z" fill="#231f20"/>
<path d="M536.50 359.80L539.20 364.80L533.80 364.80Z" fill="#231f20"/>
<path d="M533.30 366.80L536.00 371.80L530.60 371.80Z" fill="#231f20"/>
<path d="M525.50 370.70L528.20 375.70L522.80 375.70Z" fill="#231f20"/>
<path d="M580.30 308.10L583.00 303.10L577.60 303.10Z" fill="#231f20"/>
<path d="M566.40 313.50L569.10 308.50L563.70 308.50Z" fill="#231f20"/>
<path d="M573.40 315.40L576.10 310.40L570.70 310.40Z" fill="#231f20"/>
<path d="M566.40 321.20L569.10 316.20L563.70 316.20Z" fill="#231f20"/>
<path d="M580.30 324.90L583.00 319.90L577.60 319.90Z" fill="#231f20"/>
<path d="M573.40 328.10L576.10 323.10L570.70 323.10Z" fill="#231f20"/>
<path d="M569.30 334.00L572.00 329.00L566.60 329.00Z" fill="#231f20"/>
<path d="M577.40 338.00L580.10 333.00L574.70 333.00Z" fill="#231f20"/>
<path d="M569.30 351.20L572.00 346.20L566.60 346.20Z" fill="#231f20"/>
<path d="M577.40 351.20L580.10 346.20L574.70 346.20Z" fill="#231f20"/>
<circle cx="617.3" cy="247.9" r="2.5" fill="none" stroke="#231f20" stroke-width="1.1"/>
<circle cx="613.2" cy="296.2" r="2.5" fill="none" stroke="#231f20" stroke-width="1.1"/>
<circle cx="621.2" cy="296.9" r="2.5" fill="none" stroke="#231f20" stroke-width="1.1"/>
<circle cx="610.1" cy="304.8" r="2.5" fill="none" stroke="#231f20" stroke-width="1.1"/>
<circle cx="612.2" cy="308.0" r="2.5" fill="none" stroke="#231f20" stroke-width="1.1"/>
<circle cx="615.0" cy="309.3" r="2.5" fill="none" stroke="#231f20" stroke-width="1.1"/>
<circle cx="617.7" cy="310.7" r="2.5" fill="none" stroke="#231f20" stroke-width="1.1"/>
<circle cx="620.5" cy="309.3" r="2.5" fill="none" stroke="#231f20" stroke-width="1.1"/>
<circle cx="623.3" cy="308.0" r="2.5" fill="none" stroke="#231f20" stroke-width="1.1"/>
<circle cx="625.4" cy="307.7" r="2.5" fill="none" stroke="#231f20" stroke-width="1.1"/>
<circle cx="617.3" cy="321.4" r="2.5" fill="none" stroke="#231f20" stroke-width="1.1"/>
<circle cx="610.1" cy="328.1" r="2.5" fill="none" stroke="#231f20" stroke-width="1.1"/>
<circle cx="624.3" cy="328.3" r="2.5" fill="none" stroke="#231f20" stroke-width="1.1"/>
<circle cx="617.3" cy="334.3" r="2.5" fill="none" stroke="#231f20" stroke-width="1.1"/>
<rect x="658.80" y="356.70" width="5.0" height="5.0" fill="none" stroke="#231f20" stroke-width="1.1"/>
<rect x="651.50" y="363.30" width="5.0" height="5.0" fill="none" stroke="#231f20" stroke-width="1.1"/>
<rect x="669.40" y="365.10" width="5.0" height="5.0" fill="none" stroke="#231f20" stroke-width="1.1"/>
<rect x="658.40" y="366.20" width="5.0" height="5.0" fill="none" stroke="#231f20" stroke-width="1.1"/>
<rect x="666.10" y="369.10" width="5.0" height="5.0" fill="none" stroke="#231f20" stroke-width="1.1"/>
<rect x="651.10" y="372.40" width="5.0" height="5.0" fill="none" stroke="#231f20" stroke-width="1.1"/>
<rect x="655.10" y="374.60" width="5.0" height="5.0" fill="none" stroke="#231f20" stroke-width="1.1"/>
<rect x="663.20" y="373.20" width="5.0" height="5.0" fill="none" stroke="#231f20" stroke-width="1.1"/>
<rect x="659.10" y="377.50" width="5.0" height="5.0" fill="none" stroke="#231f20" stroke-width="1.1"/>
<rect x="653.70" y="384.90" width="5.0" height="5.0" fill="none" stroke="#231f20" stroke-width="1.1"/>
<rect x="663.70" y="384.00" width="5.0" height="5.0" fill="none" stroke="#231f20" stroke-width="1.1"/>
<rect x="660.60" y="386.90" width="5.0" height="5.0" fill="none" stroke="#231f20" stroke-width="1.1"/>
<rect x="657.00" y="389.00" width="5.0" height="5.0" fill="none" stroke="#231f20" stroke-width="1.1"/>
<rect x="653.70" y="386.10" width="5.0" height="5.0" fill="none" stroke="#231f20" stroke-width="1.1"/>
<line x1="419.50" y1="238.20" x2="419.50" y2="416.75" stroke="#474747" stroke-width="1.15"/>
<line x1="418.93" y1="416.00" x2="684.00" y2="416.00" stroke="#474747" stroke-width="1.5"/>
<line x1="441.40" y1="416.00" x2="441.40" y2="420.90" stroke="#474747" stroke-width="1.1"/>
<line x1="485.60" y1="416.00" x2="485.60" y2="420.90" stroke="#474747" stroke-width="1.1"/>
<line x1="529.80" y1="416.00" x2="529.80" y2="420.90" stroke="#474747" stroke-width="1.1"/>
<line x1="574.00" y1="416.00" x2="574.00" y2="420.90" stroke="#474747" stroke-width="1.1"/>
<line x1="618.20" y1="416.00" x2="618.20" y2="420.90" stroke="#474747" stroke-width="1.1"/>
<line x1="662.40" y1="416.00" x2="662.40" y2="420.90" stroke="#474747" stroke-width="1.1"/>
<line x1="414.20" y1="265.80" x2="419.50" y2="265.80" stroke="#474747" stroke-width="1.1"/>
<text x="413.50" y="270.20" font-size="12.5" text-anchor="end" font-weight="normal" fill="#333" >0.8</text>
<line x1="414.20" y1="303.20" x2="419.50" y2="303.20" stroke="#474747" stroke-width="1.1"/>
<text x="413.50" y="307.60" font-size="12.5" text-anchor="end" font-weight="normal" fill="#333" >0.6</text>
<line x1="414.20" y1="340.70" x2="419.50" y2="340.70" stroke="#474747" stroke-width="1.1"/>
<text x="413.50" y="345.10" font-size="12.5" text-anchor="end" font-weight="normal" fill="#333" >0.4</text>
<line x1="414.20" y1="378.20" x2="419.50" y2="378.20" stroke="#474747" stroke-width="1.1"/>
<text x="413.50" y="382.60" font-size="12.5" text-anchor="end" font-weight="normal" fill="#333" >0.2</text>
<line x1="414.20" y1="415.90" x2="419.50" y2="415.90" stroke="#474747" stroke-width="1.1"/>
<text x="413.50" y="420.30" font-size="12.5" text-anchor="end" font-weight="normal" fill="#333" >0.0</text>
<text x="19.00" y="11.90" font-size="16.5" text-anchor="start" font-weight="bold" fill="#231f20" >a</text>
<text x="19.10" y="234.90" font-size="16.5" text-anchor="start" font-weight="bold" fill="#231f20" >b</text>
<text x="19.20" y="445.40" font-size="16.5" text-anchor="start" font-weight="bold" fill="#231f20" >c</text>
<text x="370.10" y="12.90" font-size="16.5" text-anchor="start" font-weight="bold" fill="#231f20" >d</text>
<text x="370.80" y="235.80" font-size="16.5" text-anchor="start" font-weight="bold" fill="#231f20" >e</text>
<text transform="translate(10.7,103.4) rotate(-90)" font-size="14" font-weight="bold" text-anchor="middle" fill="#231f20">% change in body weight</text>
<text transform="translate(28.6,103.5) rotate(-90) scale(1.02,1)" font-size="14" font-weight="bold" text-anchor="middle" fill="#231f20">at D10 p.c.</text>
<text transform="translate(10.6,326.9) rotate(-90) scale(0.966,1)" font-size="14" font-weight="bold" text-anchor="middle" fill="#231f20">Lungs weight</text>
<text transform="translate(28.6,326.9) rotate(-90)" font-size="14" font-weight="bold" text-anchor="middle" fill="#231f20">at D10 p.c. (g)</text>
<text transform="translate(10.8,552.0) rotate(-90)" font-size="14" font-weight="bold" text-anchor="middle" fill="#231f20"># <tspan font-style="italic">C. muridarum</tspan>  IFU in lungs</text>
<text transform="translate(29.0,550.7) rotate(-90)" font-size="14" font-weight="bold" text-anchor="middle" fill="#231f20">at D10 p.c.</text>
<text transform="translate(362.6,109.2) rotate(-90) scale(0.988,1)" font-size="14" font-weight="bold" text-anchor="middle" fill="#231f20">IFN&#947; in the lungs</text>
<text transform="translate(380.6,107.7) rotate(-90)" font-size="14" font-weight="bold" text-anchor="middle" fill="#231f20">at D10 p.c. (pg/ml)</text>
<text transform="translate(358.2,327.3) rotate(-90)" font-size="14" font-weight="bold" text-anchor="middle" fill="#231f20">IgA in the lungs</text>
<text transform="translate(375.6,326.9) rotate(-90)" font-size="14" font-weight="bold" text-anchor="middle" fill="#231f20">at D10 p.c. (OD<tspan font-size="11" dy="5.5">405nm</tspan><tspan dy="-5.5">)</tspan></text>
<text transform="translate(85.3,651.8) rotate(-45)" font-size="12.7" font-weight="bold" text-anchor="end" fill="#231f20">PorB/VD1-3</text>
<text transform="translate(129.3,651.8) rotate(-45)" font-size="12.7" font-weight="bold" text-anchor="end" fill="#231f20">PorB/VD1-4</text>
<text transform="translate(167.7,651.9) rotate(-45)" font-size="12.7" font-weight="bold" text-anchor="end" fill="#231f20">PorB/VD1-3+</text>
<text transform="translate(175.8,664.2) rotate(-45)" font-size="12.7" font-weight="bold" text-anchor="end" fill="#231f20">PorB/VD1-4</text>
<text transform="translate(215.4,653.6) rotate(-45)" font-size="12.7" font-weight="bold" text-anchor="end" fill="#231f20">PorB/VD1-2-4</text>
<text transform="translate(259.6,653.8) rotate(-45)" font-size="12.7" font-weight="bold" text-anchor="end" fill="#231f20">rMOMP/Z3-14</text>
<text transform="translate(305.7,651.8) rotate(-45)" font-size="12.7" font-weight="bold" text-anchor="end" fill="#231f20">PBS</text>
<text transform="translate(444.2,429.2) rotate(-45)" font-size="12.7" font-weight="bold" text-anchor="end" fill="#231f20">PorB/VD1-3</text>
<text transform="translate(488.4,429.2) rotate(-45)" font-size="12.7" font-weight="bold" text-anchor="end" fill="#231f20">PorB/VD1-4</text>
<text transform="translate(527.0,429.3) rotate(-45)" font-size="12.7" font-weight="bold" text-anchor="end" fill="#231f20">PorB/VD1-3+</text>
<text transform="translate(535.1,441.6) rotate(-45)" font-size="12.7" font-weight="bold" text-anchor="end" fill="#231f20">PorB/VD1-4</text>
<text transform="translate(574.8,431.0) rotate(-45)" font-size="12.7" font-weight="bold" text-anchor="end" fill="#231f20">PorB/VD1-2-4</text>
<text transform="translate(619.2,431.2) rotate(-45)" font-size="12.7" font-weight="bold" text-anchor="end" fill="#231f20">rMOMP/Z3-14</text>
<text transform="translate(665.5,429.2) rotate(-45)" font-size="12.7" font-weight="bold" text-anchor="end" fill="#231f20">PBS</text>
<text transform="translate(192.2,731.8) scale(1,1.09)" font-size="14" font-weight="bold" text-anchor="middle" fill="#231f20">Experimental groups</text>
<text transform="translate(551.3,509.8) scale(1,1.09)" font-size="14" font-weight="bold" text-anchor="middle" fill="#231f20">Experimental groups</text>
</svg>
</body></html>
